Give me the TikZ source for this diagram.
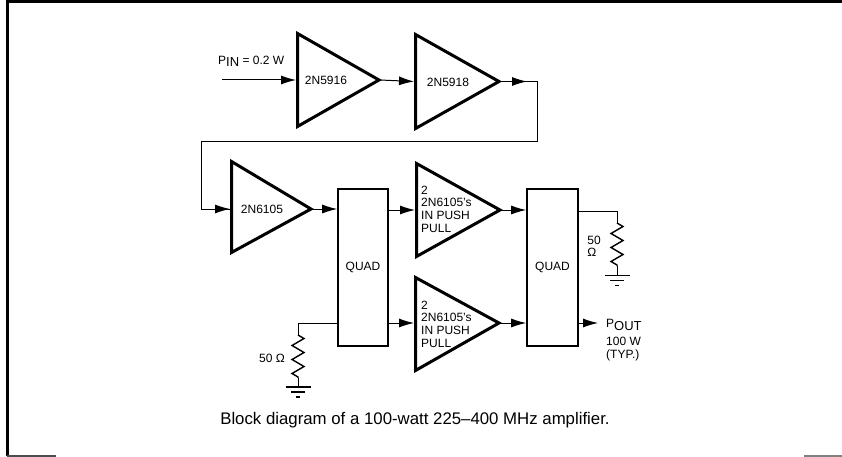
\documentclass[tikz,border=0pt]{standalone}
\usepackage{fontspec}
\setmainfont{Liberation Sans}
\usetikzlibrary{arrows.meta,decorations.pathmorphing,calc}
\tikzset{
  x=1pt,y=-1pt,
  amp/.style={draw=black,line width=3pt,line join=miter,fill=white},
  quadbox/.style={draw=black,line width=1.6pt,fill=white,inner sep=0pt,font=\fontsize{12}{13}\selectfont},
  wire/.style={draw=black,line width=1pt},
  sig/.style={wire,-{Latex[length=15pt,width=9pt]}},
  lab/.style={font=\fontsize{12}{12.6}\selectfont,inner sep=0pt},
  res/.style={wire,line width=1.4pt,decorate,decoration={zigzag,amplitude=6pt,segment length=14pt}},
  gndbar/.style={line width=1.2pt},
}
\newcommand{\gnd}[1]{%
  \draw[gndbar] ($(#1)+(-12.5,0)$) -- ($(#1)+(12.5,0)$);
  \draw[gndbar] ($(#1)+(-7,5)$) -- ($(#1)+(7,5)$);
  \draw[gndbar] ($(#1)+(-2,10)$) -- ($(#1)+(2,10)$);}
\begin{document}
\begin{tikzpicture}
\useasboundingbox (0,0) rectangle (842,457);
% frame
\draw[line width=3pt] (7.5,456) -- (7.5,1.5) -- (842,1.5);
\draw[line width=1.5pt,black!70] (7,456) -- (56,456);
\draw[line width=1.5pt,black!50] (804,456) -- (842,456);
% amplifiers
\draw[amp] (297.5,33.5) -- (379,80) -- (297.5,126.5) -- cycle;
\draw[amp] (415.5,34.5) -- (499,81.5) -- (415.5,128.5) -- cycle;
\draw[amp] (231.5,161.5) -- (311,209) -- (231.5,252.5) -- cycle;
\draw[amp] (416.5,163.5) -- (500,210) -- (416.5,256.5) -- cycle;
\draw[amp] (415.5,277.5) -- (499,323) -- (415.5,370.5) -- cycle;
% named anchors
\coordinate (in) at (222,80);
\coordinate (a1i) at (296,80);
\coordinate (a1o) at (380,80);
\coordinate (a2i) at (414,81.5);
\coordinate (a2o) at (500,81.5);
\coordinate (a3i) at (230,209);
\coordinate (a3o) at (312,209);
\coordinate (a4i) at (415,210);
\coordinate (a4o) at (501,210);
\coordinate (a5i) at (414,323);
\coordinate (a5o) at (500,323);
\node[quadbox,minimum width=50pt,minimum height=157pt] (q1) at (363,267.5) {QUAD};
\node[quadbox,minimum width=51pt,minimum height=157pt] (q2) at (552.5,267.5) {QUAD};
% text
\node[lab,anchor=west] at (218,61.5) {P\raisebox{-2.5pt}{\fontsize{13}{13}\selectfont IN} = 0.2 W};
\node[lab] at (326,80.5) {2N5916};
\node[lab] at (448,82) {2N5918};
\node[lab] at (262,209.5) {2N6105};
\node[lab,align=left,anchor=west] at (421,209) {2\\2N6105's\\IN PUSH\\PULL};
\node[lab,align=left,anchor=west] at (421,324) {2\\2N6105's\\IN PUSH\\PULL};
\node[lab] at (272,358) {50 Ω};
\node[lab,align=left] at (594,246.5) {50\\Ω};
\node[lab,anchor=west] at (606,325) {P\raisebox{-2.5pt}{\fontsize{13}{13}\selectfont OUT}};
\node[lab,align=left,anchor=north west] at (606,337) {100 W\\(TYP.)};
\node[font=\fontsize{16.8}{18}\selectfont,inner sep=0pt] (cap) at (415,420) {Block diagram of a 100-watt 225--400 MHz amplifier.};
% connectors
\draw[sig] (in) -- (a1i);
\draw[sig] (a1o) -- (a2i);
\coordinate (t1) at (537,81.5);
\coordinate (t2) at (537,142);
\coordinate (t3) at (201,142);
\coordinate (t4) at (201,209);
\coordinate (t5) at (527,81.5);
\draw[wire] (a2o) -- (t1) -- (t2) -- (t3) -- (t4) -- (a3i);
\draw[sig] (a2o) -- (t5);
\draw[sig] (t4) -- (a3i);
\draw[sig] (a3o) -- (q1.west |- a3o);
\draw[sig] (q1.east |- a4i) -- (a4i);
\draw[sig] (q1.east |- a5i) -- (a5i);
\draw[sig] (a4o) -- (q2.west |- a4o);
\draw[sig] (a5o) -- (q2.west |- a5o);
\coordinate (pout) at (598,323);
\draw[sig] (q2.east |- pout) -- (pout);
% terminations
\coordinate (r1a) at (298,323);
\coordinate (r1t) at (298,335);
\coordinate (r1e) at (298,378);
\coordinate (r1b) at (298,387);
\draw[wire] (q1.west |- r1a) -- (r1a) -- (r1t);
\draw[res] (r1t) -- (r1e);
\draw[wire] (r1e) -- (r1b);
\gnd{r1b}
\coordinate (r2a) at (617,211);
\coordinate (r2t) at (617,223);
\coordinate (r2e) at (617,266);
\coordinate (r2b) at (617,275.5);
\draw[wire] (q2.east |- r2a) -- (r2a) -- (r2t);
\draw[res] (r2t) -- (r2e);
\draw[wire] (r2e) -- (r2b);
\gnd{r2b}
\end{tikzpicture}
\end{document}
